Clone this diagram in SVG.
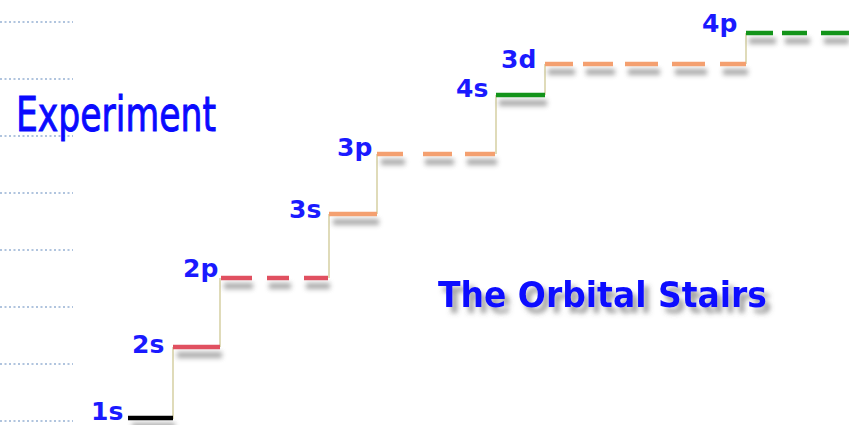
<svg xmlns="http://www.w3.org/2000/svg" width="849" height="425" viewBox="0 0 849 425">
<defs>
<filter id="sh" filterUnits="userSpaceOnUse" x="0" y="0" width="849" height="425"><feGaussianBlur stdDeviation="2.6"/></filter>
<filter id="tsh" x="-10%" y="-50%" width="120%" height="200%">
<feGaussianBlur in="SourceAlpha" stdDeviation="2.4" result="b"/>
<feOffset in="b" dx="5" dy="6" result="o"/>
<feFlood flood-color="#555" flood-opacity="0.55"/>
<feComposite in2="o" operator="in" result="s"/>
<feMerge><feMergeNode in="s"/><feMergeNode in="SourceGraphic"/></feMerge>
</filter>
<style>
.grid{stroke:#b0c4de;stroke-width:2;stroke-dasharray:2 2.5}
.lbl{font-family:"DejaVu Sans",sans-serif;font-weight:bold;font-size:25px;fill:#1a1aff}
.lv{stroke-width:4.5;fill:none}
.shd{stroke:#707070;stroke-width:6;opacity:0.6;fill:none;filter:url(#sh)}
.riser{stroke:#d8d2a8;stroke-width:1.6;fill:none}
.k{stroke:#000}
.r{stroke:#e05060}
.o{stroke:#f4a070}
.g{stroke:#13941a}
</style>
</defs>
<rect width="849" height="425" fill="#fff"/>
<g id="grid">
<line class="grid" x1="0" y1="22" x2="73" y2="22"/>
<line class="grid" x1="0" y1="79" x2="73" y2="79"/>
<line class="grid" x1="0" y1="136" x2="73" y2="136"/>
<line class="grid" x1="0" y1="193" x2="73" y2="193"/>
<line class="grid" x1="0" y1="250" x2="73" y2="250"/>
<line class="grid" x1="0" y1="307" x2="73" y2="307"/>
<line class="grid" x1="0" y1="364" x2="73" y2="364"/>
<line class="grid" x1="0" y1="421" x2="73" y2="421"/>
</g>
<text id="experiment" x="16" y="131" font-family="'DejaVu Sans',sans-serif" font-size="48" fill="#0a0aff" stroke="#0a0aff" stroke-width="1" textLength="200" lengthAdjust="spacingAndGlyphs">Experiment</text>
<g id="connectors">
<polyline class="riser" points="173,419 173,347"/>
<polyline class="riser" points="220,347 220,278"/>
<polyline class="riser" points="329,278 329,214"/>
<polyline class="riser" points="377,214 377,154"/>
<polyline class="riser" points="496,154 496,95"/>
<polyline class="riser" points="545,95 545,64"/>
<polyline class="riser" points="746,64 746,33"/>
</g>
<g id="n1s">
<line class="shd" x1="132" y1="426" x2="175" y2="426"/>
<line class="lv k" x1="128" y1="418" x2="173" y2="418"/>
<text class="lbl" x="91" y="420">1s</text>
</g>
<g id="n2s">
<line class="shd" x1="177" y1="355" x2="222" y2="355"/>
<line class="lv r" x1="173" y1="347" x2="220" y2="347"/>
<text class="lbl" x="132" y="353">2s</text>
</g>
<g id="n2p">
<line class="shd" x1="224" y1="286" x2="253" y2="286"/>
<line class="shd" x1="269" y1="286" x2="291" y2="286"/>
<line class="shd" x1="306" y1="286" x2="330" y2="286"/>
<line class="lv r" x1="221" y1="278" x2="252" y2="278"/>
<line class="lv r" x1="267" y1="278" x2="289" y2="278"/>
<line class="lv r" x1="304" y1="278" x2="328" y2="278"/>
<text class="lbl" x="183" y="277">2p</text>
</g>
<g id="n3s">
<line class="shd" x1="333" y1="222" x2="379" y2="222"/>
<line class="lv o" x1="329" y1="214" x2="377" y2="214"/>
<text class="lbl" x="289" y="218">3s</text>
</g>
<g id="n3p">
<line class="shd" x1="381" y1="162" x2="405" y2="162"/>
<line class="shd" x1="425" y1="162" x2="454" y2="162"/>
<line class="shd" x1="467" y1="162" x2="497" y2="162"/>
<line class="lv o" x1="377" y1="154" x2="403" y2="154"/>
<line class="lv o" x1="423" y1="154" x2="452" y2="154"/>
<line class="lv o" x1="465" y1="154" x2="495" y2="154"/>
<text class="lbl" x="337" y="156">3p</text>
</g>
<g id="n4s">
<line class="shd" x1="499" y1="103" x2="547" y2="103"/>
<line class="lv g" x1="496" y1="95" x2="545" y2="95"/>
<text class="lbl" x="456" y="97">4s</text>
</g>
<g id="n3d">
<line class="shd" x1="548" y1="72" x2="575" y2="72"/>
<line class="shd" x1="586" y1="72" x2="615" y2="72"/>
<line class="shd" x1="628" y1="72" x2="660" y2="72"/>
<line class="shd" x1="675" y1="72" x2="707" y2="72"/>
<line class="shd" x1="723" y1="72" x2="748" y2="72"/>
<line class="lv o" x1="545" y1="64" x2="573" y2="64"/>
<line class="lv o" x1="583" y1="64" x2="613" y2="64"/>
<line class="lv o" x1="625" y1="64" x2="658" y2="64"/>
<line class="lv o" x1="672" y1="64" x2="705" y2="64"/>
<line class="lv o" x1="720" y1="64" x2="746" y2="64"/>
<text class="lbl" x="501" y="68">3d</text>
</g>
<g id="n4p">
<line class="shd" x1="749" y1="41" x2="776" y2="41"/>
<line class="shd" x1="785" y1="41" x2="810" y2="41"/>
<line class="shd" x1="824" y1="41" x2="849" y2="41"/>
<line class="lv g" x1="746" y1="33" x2="773" y2="33"/>
<line class="lv g" x1="782" y1="33" x2="807" y2="33"/>
<line class="lv g" x1="821" y1="33" x2="849" y2="33"/>
<text class="lbl" x="702" y="32">4p</text>
</g>
<g id="title">
<text x="438" y="307" font-family="'DejaVu Sans',sans-serif" font-weight="bold" font-size="36" fill="#0a0aff" filter="url(#tsh)" textLength="329" lengthAdjust="spacingAndGlyphs">The Orbital Stairs</text>
</g>
</svg>
